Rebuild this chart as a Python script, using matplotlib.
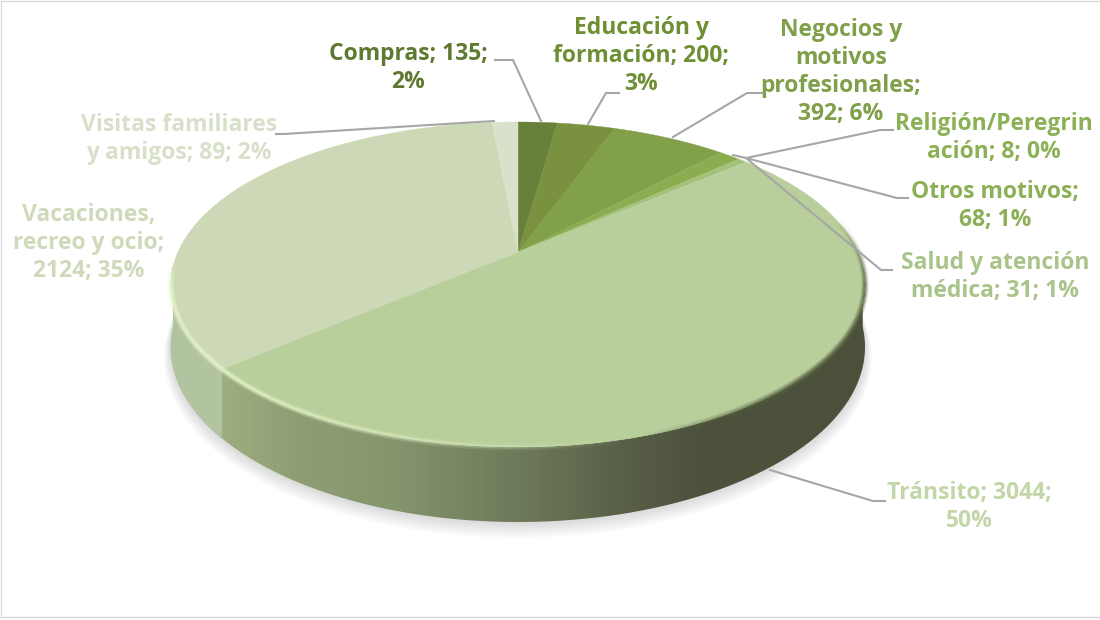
# 3D looking pie of travel motives, drawn by hand because matplotlib has no perspective pie
import numpy as np
import matplotlib
matplotlib.use('Agg')
import matplotlib.pyplot as plt
from matplotlib.patches import Polygon, PathPatch
from matplotlib.path import Path
from matplotlib.collections import LineCollection
from matplotlib.colors import LinearSegmentedColormap

motivos = ['Compras', 'Educación y formación', 'Negocios y motivos profesionales',
           'Religión/Peregrinación', 'Otros motivos', 'Salud y atención médica',
           'Tránsito', 'Vacaciones, recreo y ocio', 'Visitas familiares y amigos']
valores = [135, 200, 392, 8, 68, 31, 3044, 2124, 89]
etiquetas = ['Compras; 135;\n2%', 'Educación y\nformación; 200;\n3%',
             'Negocios y\nmotivos\nprofesionales;\n392; 6%', 'Religión/Peregrin\nación; 8; 0%',
             'Otros motivos;\n68; 1%', 'Salud y atención\nmédica; 31; 1%',
             'Tránsito; 3044;\n50%', 'Vacaciones,\nrecreo y ocio;\n2124; 35%',
             'Visitas familiares\ny amigos; 89; 2%']
colores = ['#67803a', '#7a9140', '#82a04a', '#8aad4f', '#8aad50', '#a5c07a',
           '#b9cf9b', '#cdd8b6', '#d9e1cb']
col_texto = ['#5f7a30', '#6f8f35', '#7f9f49', '#8cb055', '#8cb055', '#a9c48a',
             '#c3d6a8', '#cfdabb', '#d8e0c9']

# label centre (x, y of the block) and leader line, in pixels
pos_texto = [(408, 68), (641, 56), (841, 72), (994, 138), (995, 206), (995, 277),
             (969, 507), (89, 243), (179, 139)]
lineas = [[(541, 121), (513, 60), (495, 60)],
          [(588, 124), (606, 93), (619, 93)],
          [(673, 137), (747, 93), (762, 93)],
          [(733, 155), (746, 158), (880, 130), (893, 130)],
          [(746, 158), (897, 198), (908, 198)],
          [(746, 158), (881, 270), (892, 270)],
          [(770, 470), (873, 501), (885, 501)],
          [],
          [(494, 121), (284, 134), (276, 134)]]

plt.rcParams['font.family'] = ['Open Sans', 'DejaVu Sans']

cx, cy = 518, 252
R, Q, k = 340, 156, 0.2
D = 60


def rim(theta, depth=0.0, esc=1.0):
    # theta in radians, clockwise from the top of the circle
    w = 1 + k * np.cos(theta)
    x = cx + esc * R * np.sin(theta) / w
    y = cy - esc * Q * np.cos(theta) / w + depth * D / w
    return np.column_stack([x, y])


fig = plt.figure(figsize=(11, 6.2), dpi=100)
ax = fig.add_axes([0, 0, 1, 1])
ax.set_xlim(0, 1100)
ax.set_ylim(620, 0)
ax.axis('off')

# chart frame
ax.plot([1, 1, 1099], [617, 1, 1], color='#d9d9d9', lw=1)
ax.plot([1, 1099], [617, 617], color='#d9d9d9', lw=1)

cortes = 2 * np.pi * np.concatenate([[0], np.cumsum(valores)]) / sum(valores)

# soft shadow under the disc
t = np.linspace(np.radians(70), np.radians(290), 200)
for i in range(10):
    base = rim(t, 1.0 + i * 0.018, 1.0 + i * 0.0022)
    ax.add_patch(Polygon(base, closed=True, fc='#808080', ec='none', alpha=0.03, zorder=1))

# side of the disc
t = np.linspace(np.radians(95), np.radians(265), 300)
lado = np.vstack([rim(t), rim(t[::-1], 1.0)])
cmap = LinearSegmentedColormap.from_list('lado', [(0, '#a8b98a'), (0.18, '#8f9f74'), (0.33, '#84946d'),
                                                  (0.52, '#6b7757'), (0.67, '#565c45'), (0.76, '#4d523c'),
                                                  (1, '#4b503b')])
grad = np.linspace(0, 1, 640).reshape(1, -1)
im = ax.imshow(grad, cmap=cmap, extent=[165, 870, 530, 250], aspect='auto', zorder=2)
im.set_clip_path(PathPatch(Path(np.vstack([lado, lado[:1]])), transform=ax.transData))
ax.set_xlim(0, 1100)
ax.set_ylim(620, 0)

t = np.linspace(cortes[7], np.radians(265), 80)
lado_v = np.vstack([rim(t), rim(t[::-1], 1.0)])
ax.add_patch(Polygon(lado_v, closed=True, fc='#b2c3a0', ec='#b2c3a0', lw=0.5, zorder=3))

# top face, one wedge per value
for i in range(len(valores)):
    t = np.linspace(cortes[i], cortes[i + 1], 200)
    cara = np.vstack([[cx, cy], rim(t)])
    ax.add_patch(Polygon(cara, closed=True, fc=colores[i], ec=colores[i], lw=0.3, zorder=4))

# bevel on the rim: pale on the left, dark and blurred on the right
t = np.linspace(np.radians(78), np.radians(266), 500)
p = rim(t)
segs = np.stack([p[:-1], p[1:]], axis=1)
xs = segs[:, 0, 0]
grados = np.degrees(t[:-1])
claro = np.clip((640 - xs) / 420, 0, 1) * np.clip((266 - grados) / 8, 0, 1)
oscuro = np.clip((xs - 640) / 170, 0, 1) * np.clip((grados - 78) / 25, 0, 1)
for ancho, a in [(5.0, 0.3), (2.5, 0.7)]:
    rgba = np.zeros((len(xs), 4))
    rgba[:, :3] = (0.91, 0.97, 0.80)
    rgba[:, 3] = claro * a
    ax.add_collection(LineCollection(segs, colors=rgba, linewidths=ancho, zorder=5, capstyle='butt'))
    rgba = np.zeros((len(xs), 4))
    rgba[:, :3] = (0.36, 0.40, 0.27)
    rgba[:, 3] = oscuro * a
    ax.add_collection(LineCollection(segs, colors=rgba, linewidths=ancho, zorder=5, capstyle='butt'))

# leader lines and labels
for pts in lineas:
    if pts:
        xy = np.array(pts)
        ax.plot(xy[:, 0], xy[:, 1], color='#a6a6a6', lw=1.5, zorder=6, solid_joinstyle='round')

for texto, (x, y), c in zip(etiquetas, pos_texto, col_texto):
    ax.text(x, y, texto, ha='center', va='center', color=c, fontsize=16.5, fontweight='bold',
            linespacing=1.24, zorder=7)

fig.savefig('out.png', dpi=100)
